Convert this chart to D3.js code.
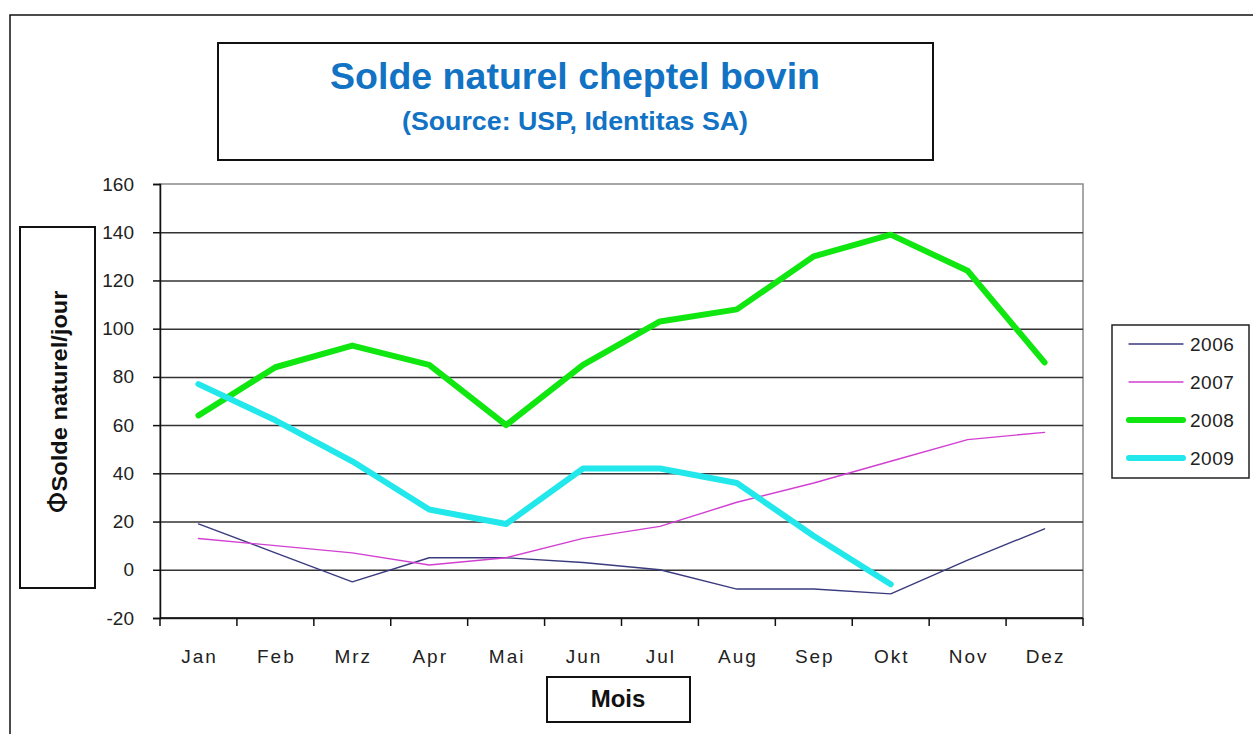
<!DOCTYPE html>
<html>
<head>
<meta charset="utf-8">
<script src="https://cdn.jsdelivr.net/npm/d3@7"></script>
<style>
  body { margin: 0; background: #fff; }
  svg { display: block; font-family: "Liberation Sans", Arial, sans-serif; }
</style>
</head>
<body>
<script>
const width = 1253;
const height = 734;
const margin = { top: 184, bottom: 116, left: 160, right: 170 };

const mois = ["Jan", "Feb", "Mrz", "Apr", "Mai", "Jun", "Jul", "Aug", "Sep", "Okt", "Nov", "Dez"];
const annees = ["2006", "2007", "2008", "2009"];
const v2006 = [19, 7, -5, 5, 5, 3, 0, -8, -8, -10, 4, 17];
const v2007 = [13, 10, 7, 2, 5, 13, 18, 28, 36, 45, 54, 57];
const v2008 = [64, 84, 93, 85, 60, 85, 103, 108, 130, 139, 124, 86];
const v2009 = [77, 62, 45, 25, 19, 42, 42, 36, 14, -6];
const yTicks = [-20, 0, 20, 40, 60, 80, 100, 120, 140, 160];

const series = [
  { nom: annees[0], valeurs: v2006, couleur: "#3a3a7e", epais: 1.4 },
  { nom: annees[1], valeurs: v2007, couleur: "#d23fd2", epais: 1.4 },
  { nom: annees[2], valeurs: v2008, couleur: "#10e610", epais: 6 },
  { nom: annees[3], valeurs: v2009, couleur: "#22e8ec", epais: 6 },
];

const svg = d3
  .select("body")
  .append("svg")
  .attr("width", width)
  .attr("height", height);

// cadre extérieur
svg
  .append("rect")
  .attr("x", 10)
  .attr("y", 15)
  .attr("width", 1300)
  .attr("height", 800)
  .attr("fill", "none")
  .attr("stroke", "#111")
  .attr("stroke-width", 1.5);

// titre
svg
  .append("rect")
  .attr("x", 218)
  .attr("y", 43)
  .attr("width", 715)
  .attr("height", 117)
  .attr("fill", "#fff")
  .attr("stroke", "#111")
  .attr("stroke-width", 2);

svg
  .append("text")
  .attr("x", 575)
  .attr("y", 89)
  .attr("text-anchor", "middle")
  .attr("font-size", 36)
  .attr("font-weight", "bold")
  .attr("fill", "#1272c4")
  .attr("textLength", 490)
  .attr("lengthAdjust", "spacingAndGlyphs")
  .text("Solde naturel cheptel bovin");

svg
  .append("text")
  .attr("x", 575)
  .attr("y", 130)
  .attr("text-anchor", "middle")
  .attr("font-size", 26)
  .attr("font-weight", "bold")
  .attr("fill", "#1272c4")
  .attr("textLength", 346)
  .attr("lengthAdjust", "spacingAndGlyphs")
  .text("(Source: USP, Identitas SA)");

const innerW = width - margin.left - margin.right;
const innerH = height - margin.top - margin.bottom;

const x = d3.scaleBand().domain(mois).range([0, innerW]).padding(0);
const y = d3.scaleLinear().domain([-20, 160]).range([innerH, 0]);
const cx = (i) => x(mois[i]) + x.bandwidth() / 2;

const plot = svg
  .append("g")
  .attr("transform", `translate(${margin.left}, ${margin.top})`);

// bordure grise du cadre de tracé
plot
  .append("rect")
  .attr("width", innerW)
  .attr("height", innerH)
  .attr("fill", "none")
  .attr("stroke", "#8a8a8a")
  .attr("stroke-width", 1.5);

// grille
plot
  .append("g")
  .call(d3.axisLeft(y).tickValues(yTicks.filter((d) => d < 160)).tickSize(-innerW).tickFormat(""))
  .call((g) => g.select(".domain").remove())
  .call((g) => g.selectAll("line").attr("stroke", "#333").attr("stroke-width", 1.5));

// axe Y
plot
  .append("g")
  .call(
    d3.axisLeft(y)
      .tickValues(yTicks)
      .tickSize(7)
      .tickPadding(19)
      .tickFormat((d) => String(d))
  )
  .call((g) => g.select(".domain").attr("stroke", "#111").attr("stroke-width", 1.5))
  .call((g) => g.selectAll("line").attr("stroke", "#111").attr("stroke-width", 1.5))
  .call((g) =>
    g.selectAll("text")
      .attr("font-size", 19)
      .attr("fill", "#222")
      .attr("font-family", "'Liberation Sans', Arial, sans-serif")
  );

// axe X
plot
  .append("line")
  .attr("x1", 0)
  .attr("x2", innerW)
  .attr("y1", y(-20))
  .attr("y2", y(-20))
  .attr("stroke", "#111")
  .attr("stroke-width", 1.5);

plot
  .selectAll(".tickx")
  .data(mois.map((m) => x(m)).concat([innerW]))
  .join("line")
  .attr("class", "tickx")
  .attr("x1", (d) => d)
  .attr("x2", (d) => d)
  .attr("y1", y(-20))
  .attr("y2", y(-20) + 8)
  .attr("stroke", "#111")
  .attr("stroke-width", 1.5);

plot
  .selectAll(".labelx")
  .data(mois)
  .join("text")
  .attr("class", "labelx")
  .attr("x", (d) => x(d) + x.bandwidth() / 2 + 1)
  .attr("y", y(-20) + 45)
  .attr("text-anchor", "middle")
  .attr("font-size", 19)
  .attr("letter-spacing", 2)
  .attr("fill", "#222")
  .text((d) => d);

// courbes
const ligne = d3
  .line()
  .x((d, i) => cx(i))
  .y((d) => y(d));

plot
  .selectAll(".serie")
  .data(series)
  .join("path")
  .attr("class", "serie")
  .attr("d", (d) => ligne(d.valeurs))
  .attr("fill", "none")
  .attr("stroke", (d) => d.couleur)
  .attr("stroke-width", (d) => d.epais)
  .attr("stroke-linejoin", "round")
  .attr("stroke-linecap", "round");

// légende
const legende = svg.append("g").attr("transform", "translate(1112, 325)");

legende
  .append("rect")
  .attr("width", 137)
  .attr("height", 153)
  .attr("fill", "#fff")
  .attr("stroke", "#222")
  .attr("stroke-width", 1.5);

const items = legende
  .selectAll(".item")
  .data(series)
  .join("g")
  .attr("class", "item")
  .attr("transform", (d, i) => `translate(0, ${19 + i * 38})`);

items
  .append("line")
  .attr("x1", 17)
  .attr("x2", 71)
  .attr("stroke", (d) => d.couleur)
  .attr("stroke-width", (d) => d.epais)
  .attr("stroke-linecap", "round");

items
  .append("text")
  .attr("x", 78)
  .attr("dy", "0.35em")
  .attr("font-size", 19)
  .attr("letter-spacing", 0.5)
  .attr("fill", "#222")
  .text((d) => d.nom);

// titre axe Y
svg
  .append("rect")
  .attr("x", 20)
  .attr("y", 227)
  .attr("width", 75)
  .attr("height", 361)
  .attr("fill", "#fff")
  .attr("stroke", "#111")
  .attr("stroke-width", 2);

const titreY = svg
  .append("text")
  .attr("transform", "translate(67, 402) rotate(-90)")
  .attr("text-anchor", "middle")
  .attr("font-size", 22)
  .attr("font-weight", "bold")
  .attr("fill", "#111")
  .attr("textLength", 223)
  .attr("lengthAdjust", "spacingAndGlyphs");

titreY
  .append("tspan")
  .attr("font-weight", "normal")
  .attr("font-size", 26)
  .attr("font-family", "'DejaVu Sans', sans-serif")
  .text("\u03A6");

titreY.append("tspan").text("Solde naturel/jour");

// titre axe X
svg
  .append("rect")
  .attr("x", 547)
  .attr("y", 677)
  .attr("width", 143)
  .attr("height", 45)
  .attr("fill", "#fff")
  .attr("stroke", "#111")
  .attr("stroke-width", 2);

svg
  .append("text")
  .attr("x", 618)
  .attr("y", 707)
  .attr("text-anchor", "middle")
  .attr("font-size", 24)
  .attr("font-weight", "bold")
  .attr("fill", "#111")
  .text("Mois");
</script>
</body>
</html>
